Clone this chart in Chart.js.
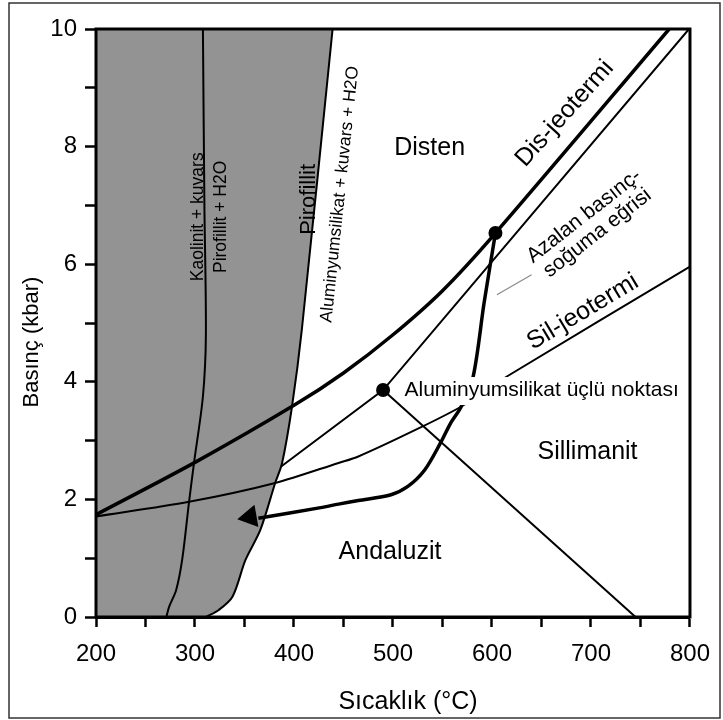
<!DOCTYPE html>
<html><head><meta charset="utf-8">
<script src="https://cdn.jsdelivr.net/npm/chart.js@4.4.1/dist/chart.umd.min.js"></script>
<style>html,body{margin:0;padding:0;background:#fff}#wrap{width:723px;height:720px}</style>
</head><body><div id="wrap"><canvas id="c" width="723" height="720"></canvas></div>
<script>
const FONT = '"Liberation Sans", Arial, Helvetica, sans-serif';

// tick labels
const xTickLabels = [200, 300, 400, 500, 600, 700, 800];
const yTickLabels = [0, 2, 4, 6, 8, 10];

// right edge of the grey (Pirofillit) field : T (°C), P (kbar)
const pyrophylliteEdgeT = [311, 324, 338, 351, 366, 381, 388, 398, 408, 439];
const pyrophylliteEdgeP = [0, 0.12, 0.35, 0.97, 1.48, 2.28, 2.62, 3.58, 4.9, 10];
// Kaolinit + kuvars / Pirofillit + H2O boundary
const kaoliniteT = [308, 309.5, 311, 308, 299, 294, 287, 281, 274, 271];
const kaoliniteP = [10, 7, 4.8, 3.75, 2.62, 1.96, 0.97, 0.46, 0.18, 0];
// Dis-jeotermi
const disGeothermT = [200, 300, 400, 450, 500, 550, 603.5, 779];
const disGeothermP = [1.74, 2.63, 3.6, 4.15, 4.8, 5.55, 6.53, 10];
// Sil-jeotermi
const silGeothermT = [200, 294, 381, 445, 465, 520, 569, 615, 800];
const silGeothermP = [1.71, 1.96, 2.28, 2.62, 2.73, 3.16, 3.58, 4.09, 5.96];
// Andaluzit-Disten and Disten-Sillimanit boundaries
const kyaniteBoundaryT = [387, 490, 799];
const kyaniteBoundaryP = [2.56, 3.86, 10];
// Sillimanit-Andaluzit boundary
const silAndT = [490, 745];
const silAndP = [3.86, 0];
// decompression-cooling path
const ptPathT = [603.5, 592, 581, 569, 558, 548, 532, 515, 498, 465, 445, 427, 364];
const ptPathP = [6.53, 5.34, 4.09, 3.58, 3.29, 2.96, 2.5, 2.22, 2.08, 1.98, 1.92, 1.86, 1.68];
// dots: path start and triple point
const markerT = [603.5, 490];
const markerP = [6.53, 3.86];
// arrow head of the path
const arrowT = [355.6];
const arrowP = [1.70];
// leader line for the path label
const leaderT = [605, 640];
const leaderP = [5.48, 5.82];

const pts = (T, P) => T.map((t, i) => ({x: t, y: P[i]}));

// text annotations (anchored in data coordinates)
const LABELS = [
  {text: 'Disten', t: 537, p: 7.98, size: 25, rot: 0, align: 'center', base: 'middle'},
  {text: 'Sillimanit', t: 696.5, p: 2.81, size: 25, rot: 0, align: 'center', base: 'middle'},
  {text: 'Andaluzit', t: 497, p: 1.11, size: 25, rot: 0, align: 'center', base: 'middle'},
  {text: 'Aluminyumsilikat üçlü noktası', t: 511.6, p: 3.86, size: 21, rot: 0, align: 'left', base: 'middle', box: true},
  {text: 'Dis-jeotermi', t: 633.6, p: 7.64, size: 25, rot: -48, align: 'left', base: 'alphabetic'},
  {text: 'Azalan basınç-', t: 696.6, p: 6.74, size: 21, rot: -38, align: 'center', base: 'alphabetic'},
  {text: 'soğuma eğrisi', t: 710.1, p: 6.45, size: 21, rot: -38, align: 'center', base: 'alphabetic'},
  {text: 'Sil-jeotermi', t: 641.3, p: 4.54, size: 25, rot: -31, align: 'left', base: 'alphabetic'},
  {text: 'Pirofillit', t: 421.4, p: 6.50, size: 22, rot: -90, align: 'left', base: 'alphabetic'},
  {text: 'Aluminyumsilikat + kuvars + H2O', t: 437.7, p: 5.0, size: 17.5, rot: -84, align: 'left', base: 'alphabetic'},
  {text: 'Kaolinit + kuvars', t: 307.7, p: 5.71, size: 17.5, rot: -90, align: 'left', base: 'alphabetic'},
  {text: 'Pirofillit + H2O', t: 331.1, p: 5.85, size: 17.5, rot: -90, align: 'left', base: 'alphabetic'}
];

const line = (label, data, w, extra) => Object.assign({
  type: 'line', label, data, borderColor: '#000', borderWidth: w,
  pointRadius: 0, pointHoverRadius: 0, fill: false, tension: 0.3
}, extra || {});

const annotPlugin = {
  id: 'annot',
  beforeDraw(chart) {
    const ctx = chart.ctx;
    ctx.save();
    ctx.fillStyle = '#fff';
    ctx.fillRect(0, 0, chart.width, chart.height);
    // outer frame of the figure
    ctx.strokeStyle = '#333';
    ctx.lineWidth = 1.5;
    ctx.strokeRect(9, 3, 711, 715);
    ctx.restore();
  },
  afterDatasetsDraw(chart) {
    const {ctx, chartArea: a, scales: {x, y}} = chart;
    ctx.save();
    ctx.strokeStyle = '#000';
    ctx.lineWidth = 3;
    ctx.strokeRect(a.left, a.top, a.right - a.left, a.bottom - a.top);
    for (const l of LABELS) {
      ctx.save();
      ctx.translate(x.getPixelForValue(l.t), y.getPixelForValue(l.p));
      ctx.rotate(l.rot * Math.PI / 180);
      ctx.font = l.size + 'px ' + FONT;
      ctx.textAlign = l.align;
      ctx.textBaseline = l.base;
      if (l.box) {
        const w = ctx.measureText(l.text).width;
        ctx.fillStyle = '#fff';
        ctx.fillRect(-3, -13, w + 8, 28);
      }
      ctx.fillStyle = '#000';
      ctx.fillText(l.text, 0, 0);
      ctx.restore();
    }
    // axis titles
    ctx.fillStyle = '#000';
    ctx.textAlign = 'center';
    ctx.textBaseline = 'middle';
    ctx.font = '25px ' + FONT;
    ctx.fillText('Sıcaklık (°C)', 408, 702);
    ctx.save();
    ctx.translate(32, 342);
    ctx.rotate(-Math.PI / 2);
    ctx.font = '22px ' + FONT;
    ctx.fillText('Basınç (kbar)', 0, 0);
    ctx.restore();
    ctx.restore();
  }
};

new Chart(document.getElementById('c'), {
  type: 'line',
  data: {
    datasets: [
      {type: 'line', label: 'noktalar', data: pts(markerT, markerP), showLine: false,
       pointRadius: 7, pointHoverRadius: 7, pointBackgroundColor: '#000', pointBorderWidth: 0},
      {type: 'line', label: 'ok', data: pts(arrowT, arrowP), showLine: false, pointStyle: 'triangle',
       pointRotation: 260, pointRadius: 13, pointHoverRadius: 13, pointBackgroundColor: '#000', pointBorderWidth: 0},
      line('Azalan basınç-soğuma eğrisi', pts(ptPathT, ptPathP), 3.5, {borderJoinStyle: 'round'}),
      line('Dis-jeotermi', pts(disGeothermT, disGeothermP), 3.5),
      line('Sil-jeotermi', pts(silGeothermT, silGeothermP), 2),
      line('Disten sınırı', pts(kyaniteBoundaryT, kyaniteBoundaryP), 2, {tension: 0}),
      line('Sillimanit-Andaluzit', pts(silAndT, silAndP), 2, {tension: 0}),
      line('işaret', pts(leaderT, leaderP), 1.2, {borderColor: '#8a8a8a', tension: 0}),
      line('Kaolinit-Pirofillit', pts(kaoliniteT, kaoliniteP), 2, {tension: 0.3}),
      line('Pirofillit', pts(pyrophylliteEdgeT, pyrophylliteEdgeP), 2,
           {indexAxis: 'y', fill: {value: 200}, backgroundColor: '#939393', tension: 0.3})
    ]
  },
  options: {
    responsive: false,
    animation: false,
    devicePixelRatio: 1,
    layout: {padding: {left: 0, right: 29, top: 29, bottom: 0}},
    plugins: {legend: {display: false}, tooltip: {enabled: false}},
    events: [],
    scales: {
      x: {
        type: 'linear', min: 200, max: 800,
        ticks: {
          stepSize: 50, autoSkip: false, maxRotation: 0, padding: 13, color: '#000',
          font: {size: 24, family: FONT},
          callback: v => xTickLabels.includes(v) ? String(v) : ''
        },
        grid: {drawOnChartArea: false, tickLength: 10, tickWidth: 2.5, tickColor: '#000'},
        border: {display: true, width: 3, color: '#000'},
        afterFit(s) { s.height = 103; }
      },
      y: {
        type: 'linear', min: 0, max: 10,
        ticks: {
          stepSize: 1, autoSkip: false, padding: 8, color: '#000',
          font: {size: 24, family: FONT},
          callback: v => yTickLabels.includes(v) ? String(v) : ''
        },
        grid: {drawOnChartArea: false, tickLength: 11, tickWidth: 2.5, tickColor: '#000'},
        border: {display: true, width: 3, color: '#000'},
        afterFit(s) { s.width = 96; }
      }
    }
  },
  plugins: [annotPlugin]
});
</script>
</body></html>
